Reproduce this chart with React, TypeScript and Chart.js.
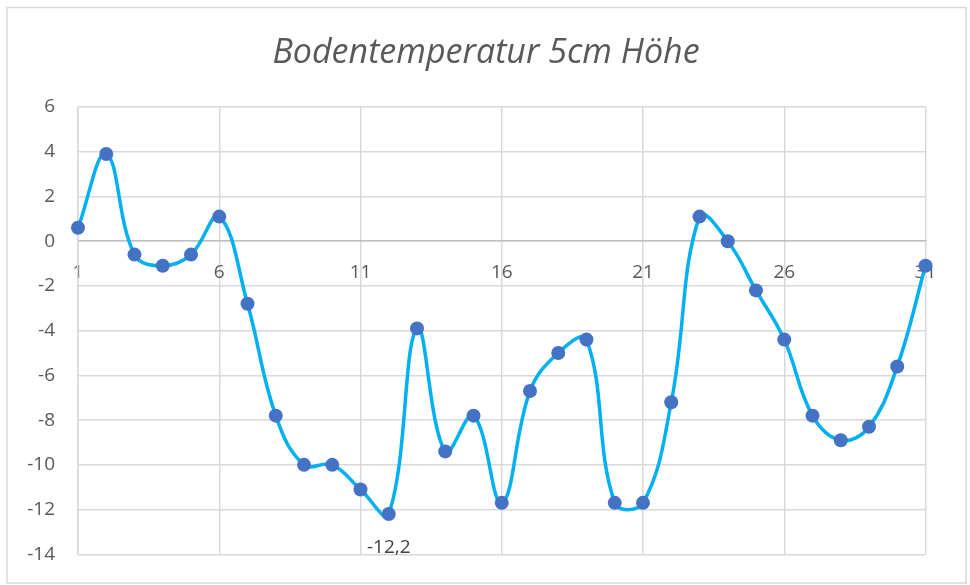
import React, { useEffect, useRef } from "react";
import { Chart, registerables } from "chart.js";

Chart.register(...registerables);

const title = "Bodentemperatur 5cm Höhe";
const days = [
  1, 2, 3, 4, 5, 6, 7, 8, 9, 10, 11, 12, 13, 14, 15, 16, 17, 18, 19, 20, 21,
  22, 23, 24, 25, 26, 27, 28, 29, 30, 31,
];
const temps = [
  0.6, 3.9, -0.6, -1.1, -0.6, 1.1, -2.8, -7.8, -10.0, -10.0, -11.1, -12.2,
  -3.9, -9.4, -7.8, -11.7, -6.7, -5.0, -4.4, -11.7, -11.7, -7.2, 1.1, 0.0,
  -2.2, -4.4, -7.8, -8.9, -8.3, -5.6, -1.1,
];
const xTickValues = [1, 6, 11, 16, 21, 26, 31];
const yMin = -14;
const yMax = 6;
const yStep = 2;
const labelledIndex = 11;

const FONT = "'Open Sans'";

const decorPlugin = {
  id: "decor",
  beforeDraw(chart: any) {
    const ctx = chart.ctx;
    ctx.save();
    ctx.fillStyle = "#ffffff";
    ctx.fillRect(0, 0, chart.width, chart.height);
    ctx.strokeStyle = "#d9d9d9";
    ctx.lineWidth = 1.5;
    ctx.strokeRect(7, 7.5, 959, 575.5);
    ctx.fillStyle = "#595959";
    ctx.font = `italic 34px ${FONT}`;
    ctx.textAlign = "center";
    ctx.textBaseline = "alphabetic";
    ctx.fillText(title, 486, 63);
    ctx.restore();
  },
  afterDatasetsDraw(chart: any) {
    const ctx = chart.ctx;
    const meta = chart.getDatasetMeta(0);
    const pt = meta.data[labelledIndex];
    if (!pt) return;
    ctx.save();
    ctx.fillStyle = "#404040";
    ctx.font = `19px ${FONT}`;
    ctx.textAlign = "center";
    ctx.textBaseline = "middle";
    ctx.fillText(String(temps[labelledIndex]).replace(".", ","), pt.x, pt.y + 34);
    ctx.restore();
  },
};

export default function App() {
  const ref = useRef<HTMLCanvasElement | null>(null);
  useEffect(() => {
    if (!ref.current) return;
    const chart = new Chart(ref.current, {
      type: "line",
      data: {
        datasets: [
          {
            data: days.map((d, i) => ({ x: d, y: temps[i] })),
            borderColor: "#00B0F0",
            borderWidth: 3.5,
            tension: 0.4,
            pointRadius: 7,
            pointHoverRadius: 7,
            pointBackgroundColor: "#4472C4",
            pointBorderColor: "#4472C4",
            pointBorderWidth: 0,
            clip: false,
            fill: false,
          } as any,
        ],
      },
      options: {
        animation: false,
        responsive: true,
        maintainAspectRatio: false,
        layout: { padding: { left: 0, top: 107, right: 44.5, bottom: 30.7 } },
        plugins: {
          legend: { display: false },
          title: { display: false },
          tooltip: { enabled: false },
        },
        scales: {
          x: {
            type: "linear",
            position: { y: 0 } as any,
            min: 1,
            max: 31,
            afterBuildTicks: (scale: any) => {
              scale.ticks = xTickValues.map((v) => ({ value: v }));
            },
            afterFit: (scale: any) => {
              scale.height = 0;
            },
            grid: {
              color: "#d9d9d9",
              lineWidth: 1.5,
              drawTicks: false,
            },
            border: { color: "#bfbfbf", width: 1.5 },
            ticks: {
              color: "#595959",
              font: { family: FONT, size: 19 },
              padding: 20,
              maxRotation: 0,
              autoSkip: false,
            },
          },
          y: {
            type: "linear",
            min: yMin,
            max: yMax,
            afterFit: (scale: any) => {
              scale.width = 78;
              scale.paddingTop = 12;
              scale.paddingBottom = 12;
            },
            grid: {
              color: "#d9d9d9",
              lineWidth: 1.5,
              drawTicks: false,
            },
            border: { color: "#d9d9d9", width: 1.5 },
            ticks: {
              stepSize: yStep,
              color: "#595959",
              font: { family: FONT, size: 19 },
              padding: 23,
            },
          },
        },
      },
      plugins: [decorPlugin],
    });
    return () => chart.destroy();
  }, []);
  return (
    <div style={{ position: "absolute", left: 0, top: 0, width: 970, height: 585 }}>
      <canvas ref={ref} />
    </div>
  );
}
